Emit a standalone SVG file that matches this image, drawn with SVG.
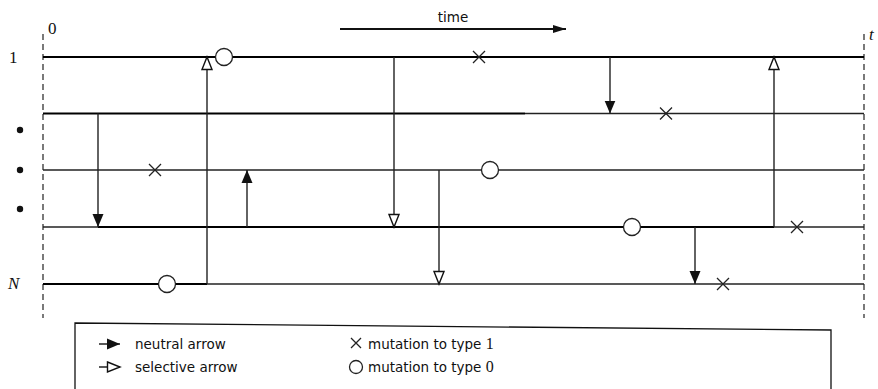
<svg xmlns="http://www.w3.org/2000/svg" width="878" height="389" viewBox="0 0 878 389">
<style>
.thick{stroke:#000;stroke-width:2;fill:none}
.thin{stroke:#222;stroke-width:1.4;fill:none}
.arr{stroke:#222;stroke-width:1.4;fill:none}
.dash{stroke:#333;stroke-width:1.3;stroke-dasharray:6,4;fill:none}
.circ{fill:#fff;stroke:#222;stroke-width:1.3}
.cross{stroke:#222;stroke-width:1.3;fill:none}
.sans{font-family:"DejaVu Sans",sans-serif;font-size:13.5px;fill:#111}
.serif{font-family:"Liberation Serif",serif;font-size:17px;fill:#111}
</style>
<defs>
<marker id="nf" markerUnits="userSpaceOnUse" markerWidth="14" markerHeight="12" refX="13" refY="5.5" orient="auto" viewBox="0 0 14 11">
<path d="M0,0 L13,5.5 L0,11 z" fill="#111"/>
</marker>
<marker id="so" markerUnits="userSpaceOnUse" markerWidth="16" markerHeight="14" refX="14" refY="6" orient="auto" viewBox="0 0 16 12">
<path d="M1.5,1 L14,6 L1.5,11 z" fill="#fff" stroke="#111" stroke-width="1.4"/>
</marker>
<marker id="ta" markerUnits="userSpaceOnUse" markerWidth="14" markerHeight="10" refX="13" refY="4" orient="auto" viewBox="0 0 14 8">
<path d="M0,0 L13,4 L0,8 z" fill="#111"/>
</marker>
</defs>

<g id="axes">
<line class="dash" x1="43" y1="34" x2="43" y2="318"/>
<line class="dash" x1="864" y1="34" x2="864" y2="318"/>
<text class="serif" x="48" y="34">0</text>
<text class="serif" x="869" y="40" font-style="italic">t</text>
<text class="serif" x="9" y="63">1</text>
<text class="serif" x="8" y="289" font-style="italic">N</text>
<circle cx="20" cy="130" r="3.2" fill="#111"/>
<circle cx="20" cy="170" r="3.2" fill="#111"/>
<circle cx="20" cy="209" r="3.2" fill="#111"/>
</g>

<g id="time">
<line x1="340" y1="29" x2="566" y2="29" stroke="#111" stroke-width="1.8" marker-end="url(#ta)"/>
<text class="sans" x="453" y="22" text-anchor="middle">time</text>
</g>

<g id="lines">
<line class="thick" x1="43" y1="57" x2="864" y2="57"/>
<line class="thick" x1="43" y1="113.5" x2="525" y2="113.5"/>
<line class="thin" x1="525" y1="113.5" x2="864" y2="113.5"/>
<line class="thin" x1="43" y1="170" x2="864" y2="170"/>
<line class="thin" x1="43" y1="227" x2="98" y2="227"/>
<line class="thick" x1="98" y1="227" x2="774" y2="227"/>
<line class="thin" x1="774" y1="227" x2="864" y2="227"/>
<line class="thick" x1="43" y1="284" x2="207" y2="284"/>
<line class="thin" x1="207" y1="284" x2="864" y2="284"/>
</g>

<g id="connectors">
<line class="arr" x1="98" y1="113.5" x2="98" y2="227" marker-end="url(#nf)"/>
<line class="arr" x1="207" y1="284" x2="207" y2="57" marker-end="url(#so)"/>
<line class="arr" x1="247" y1="227" x2="247" y2="170" marker-end="url(#nf)"/>
<line class="arr" x1="394" y1="57" x2="394" y2="227" marker-end="url(#so)"/>
<line class="arr" x1="439" y1="170" x2="439" y2="284" marker-end="url(#so)"/>
<line class="arr" x1="610" y1="57" x2="610" y2="113.5" marker-end="url(#nf)"/>
<line class="arr" x1="774" y1="227" x2="774" y2="57" marker-end="url(#so)"/>
<line class="arr" x1="695" y1="227" x2="695" y2="284" marker-end="url(#nf)"/>
</g>

<g id="mutations">
<circle class="circ" cx="224" cy="57" r="8.5"/>
<circle class="circ" cx="167" cy="284" r="8.5"/>
<circle class="circ" cx="490" cy="170" r="8.5"/>
<circle class="circ" cx="632" cy="227" r="8.5"/>
<path class="cross" d="M149,164 L161,176 M161,164 L149,176"/>
<path class="cross" d="M473,51 L485,63 M485,51 L473,63"/>
<path class="cross" d="M660,107.5 L672,119.5 M672,107.5 L660,119.5"/>
<path class="cross" d="M791,221 L803,233 M803,221 L791,233"/>
<path class="cross" d="M717,278 L729,290 M729,278 L717,290"/>
</g>

<g id="legend">
<polygon points="75,323 831,330 831,400 75,400" fill="none" stroke="#111" stroke-width="1.3"/>
<line x1="99" y1="344" x2="120" y2="344" stroke="#111" stroke-width="1.4" marker-end="url(#nf)"/>
<text class="sans" x="135" y="349">neutral arrow</text>
<line x1="99" y1="367" x2="120" y2="367" stroke="#111" stroke-width="1.4" marker-end="url(#so)"/>
<text class="sans" x="135" y="372">selective arrow</text>
<path class="cross" d="M351,338 L361,348 M361,338 L351,348"/>
<text class="sans" x="368" y="349">mutation to type <tspan class="serif" style="font-size:16px">1</tspan></text>
<circle class="circ" cx="356" cy="367" r="6.5"/>
<text class="sans" x="368" y="372">mutation to type <tspan class="serif" style="font-size:16px">0</tspan></text>
</g>
</svg>
